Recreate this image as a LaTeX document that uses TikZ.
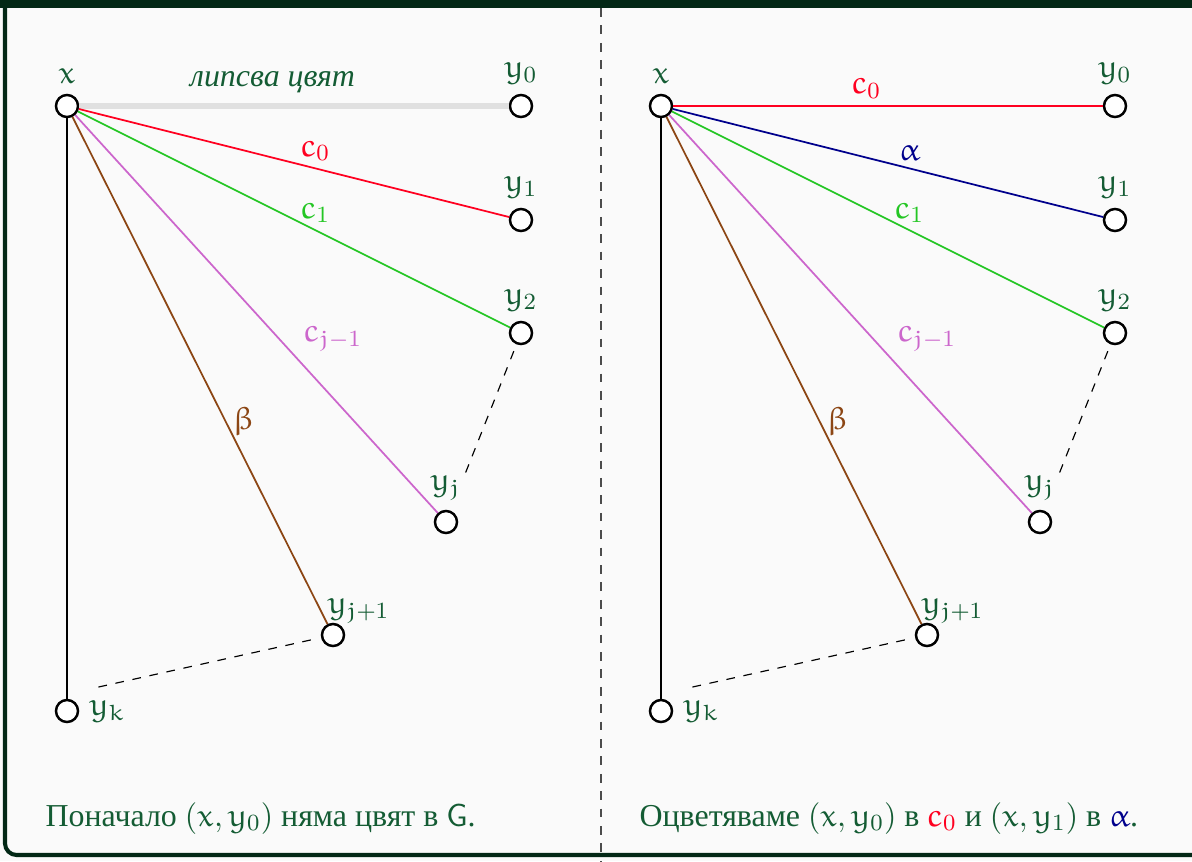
\documentclass[tikz,border=0pt]{standalone}
\usepackage[no-math]{fontspec}
\setmainfont{Liberation Serif}
\DeclareSymbolFont{eulerbukvi}{U}{eur}{m}{n}
\DeclareMathSymbol{x}{\mathalpha}{eulerbukvi}{`x}
\DeclareMathSymbol{y}{\mathalpha}{eulerbukvi}{`y}
\DeclareMathSymbol{c}{\mathalpha}{eulerbukvi}{`c}
\DeclareMathSymbol{j}{\mathalpha}{eulerbukvi}{`j}
\DeclareMathSymbol{k}{\mathalpha}{eulerbukvi}{`k}
\DeclareMathSymbol{\alpha}{\mathord}{eulerbukvi}{"0B}
\DeclareMathSymbol{\beta}{\mathord}{eulerbukvi}{"0C}

\definecolor{ramka}{RGB}{3,40,22}
\definecolor{fon}{RGB}{250,250,250}
\definecolor{tekst}{RGB}{20,92,52}
\definecolor{cherven}{RGB}{255,0,32}
\definecolor{zelen}{RGB}{36,198,36}
\definecolor{lilav}{RGB}{204,102,204}
\definecolor{kafyav}{RGB}{140,70,20}
\definecolor{tamnosin}{RGB}{0,0,140}
\definecolor{lipsva}{RGB}{224,224,224}

\begin{document}
\begin{tikzpicture}[x=0.01212cm, y=-0.01212cm, font=\fontsize{11}{13}\selectfont,
    vrah/.style={circle, draw=black, fill=white, line width=0.85pt, minimum size=7.6pt, inner sep=0pt},
    etiket/.style={text=tekst},
    rebro/.style={line width=0.6pt},
    cvyat/.style={inner sep=2.3pt}]
    \useasboundingbox (0,0) rectangle (1192,861);

    % рамка и фон
    \fill[fon] (0,0) rectangle (1192,861);
    \fill[ramka] (0,0) rectangle (1192,8);
    \draw[ramka, line width=1.4pt, rounded corners=4pt] (5,8) -- (5,855) -- (1200,855);
    \draw[dashed, black!70] (601,8) -- (601,861);

    % върхове -- преди
    \node[vrah, label={[etiket]above:$x$}] (xL) at (67,106) {};
    \node[vrah, label={[etiket]above:$y_0$}] (y0L) at (521,106) {};
    \node[vrah, label={[etiket]above:$y_1$}] (y1L) at (521,220) {};
    \node[vrah, label={[etiket]above:$y_2$}] (y2L) at (521,333) {};
    \node[vrah, label={[etiket]above:$y_j$}] (yjL) at (446,522) {};
    \node[vrah, label={[etiket, anchor=south west, inner sep=1pt]north west:$y_{j+1}$}] (yjjL) at (333,635) {};
    \node[vrah, label={[etiket]right:$y_k$}] (ykL) at (67,711) {};
    \coordinate (kL) at (67,694);

    % ребра -- преди
    \draw[lipsva, line width=2.2pt] (xL) -- node[pos=.45, above, etiket] {\textit{липсва цвят}} (y0L);
    \draw[rebro, cherven] (xL) -- node[cvyat, pos=.55, above] {$c_0$} (y1L);
    \draw[rebro, zelen] (xL) -- node[cvyat, pos=.55, above] {$c_1$} (y2L);
    \draw[rebro, lilav] (xL) -- node[cvyat, pos=.61, above right] {$c_{j-1}$} (yjL);
    \draw[rebro, kafyav] (xL) -- node[cvyat, pos=.6, right] {$\beta$} (yjjL);
    \draw[rebro] (xL) -- (ykL);
    \draw[dashed, shorten <=2.5pt, shorten >=14pt] (y2L) -- (yjL);
    \draw[dashed, shorten <=3.6pt, shorten >=10.9pt] (yjjL) -- (kL);

    % върхове -- след
    \node[vrah, label={[etiket]above:$x$}] (xR) at (661,106) {};
    \node[vrah, label={[etiket]above:$y_0$}] (y0R) at (1115,106) {};
    \node[vrah, label={[etiket]above:$y_1$}] (y1R) at (1115,220) {};
    \node[vrah, label={[etiket]above:$y_2$}] (y2R) at (1115,333) {};
    \node[vrah, label={[etiket]above:$y_j$}] (yjR) at (1040,522) {};
    \node[vrah, label={[etiket, anchor=south west, inner sep=1pt]north west:$y_{j+1}$}] (yjjR) at (927,635) {};
    \node[vrah, label={[etiket]right:$y_k$}] (ykR) at (661,711) {};
    \coordinate (kR) at (661,694);

    % ребра -- след
    \draw[rebro, cherven] (xR) -- node[cvyat, pos=.45, above] {$c_0$} (y0R);
    \draw[rebro, tamnosin] (xR) -- node[cvyat, pos=.55, above] {$\alpha$} (y1R);
    \draw[rebro, zelen] (xR) -- node[cvyat, pos=.55, above] {$c_1$} (y2R);
    \draw[rebro, lilav] (xR) -- node[cvyat, pos=.61, above right] {$c_{j-1}$} (yjR);
    \draw[rebro, kafyav] (xR) -- node[cvyat, pos=.6, right] {$\beta$} (yjjR);
    \draw[rebro] (xR) -- (ykR);
    \draw[dashed, shorten <=2.5pt, shorten >=14pt] (y2R) -- (yjR);
    \draw[dashed, shorten <=3.6pt, shorten >=10.9pt] (yjjR) -- (kR);

    % подписи
    \node[etiket, anchor=base west, inner sep=0pt] (podL) at (45,826)
        {Поначало $(x, y_0)$ няма цвят в $\mathsf{G}$.};
    \node[etiket, anchor=base west, inner sep=0pt] (podR) at (639,826)
        {Оцветяваме $(x, y_0)$ в ${\color{cherven}c_0}$ и $(x, y_1)$ в ${\color{tamnosin}\alpha}$.};
\end{tikzpicture}
\end{document}
